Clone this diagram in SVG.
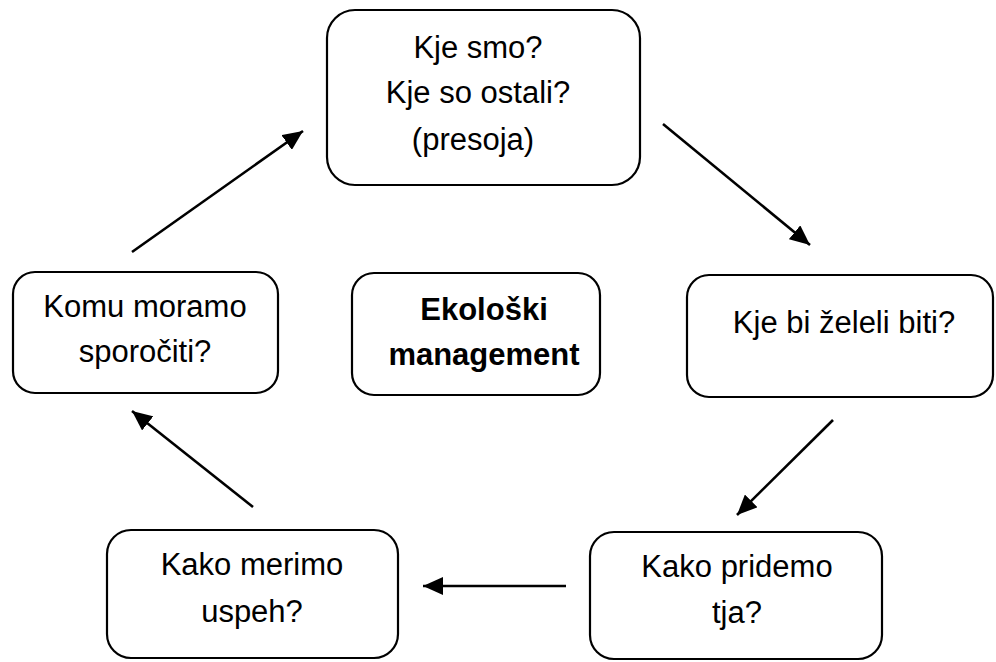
<svg xmlns="http://www.w3.org/2000/svg" width="996" height="662" viewBox="0 0 996 662">
<defs>
<style>
.box{fill:#fff;stroke:#000;stroke-width:2.2}
.t{font-family:"Liberation Sans",Arial,sans-serif;font-size:31px;fill:#000;text-anchor:middle}
.b{font-weight:bold;font-size:31px}
.c{stroke:#000;stroke-width:2.6;fill:none}
</style>
<marker id="ah" markerUnits="userSpaceOnUse" markerWidth="22" markerHeight="18" refX="20" refY="9" orient="auto">
<path d="M0,0 L20,9 L0,18 Z" fill="#000"/>
</marker>
</defs>
<rect width="996" height="662" fill="#fff"/>
<g id="n-top">
<rect class="box" x="327" y="10" width="313" height="175" rx="28"/>
<text class="t" x="478" y="58">Kje smo?</text>
<text class="t" x="478" y="103">Kje so ostali?</text>
<text class="t" x="473" y="150">(presoja)</text>
</g>
<g id="n-left">
<rect class="box" x="13" y="272" width="265" height="121" rx="22"/>
<text class="t" x="145" y="317">Komu moramo</text>
<text class="t" x="145" y="362">sporočiti?</text>
</g>
<g id="n-center">
<rect class="box" x="352" y="273" width="248" height="122" rx="22"/>
<text class="t b" x="484" y="320">Ekološki</text>
<text class="t b" x="484" y="365">management</text>
</g>
<g id="n-right">
<rect class="box" x="687" y="275" width="306" height="122" rx="22"/>
<text class="t" x="844" y="333">Kje bi želeli biti?</text>
</g>
<g id="n-bl">
<rect class="box" x="107" y="530" width="291" height="128" rx="24"/>
<text class="t" x="252" y="575">Kako merimo</text>
<text class="t" x="252" y="622">uspeh?</text>
</g>
<g id="n-br">
<rect class="box" x="590" y="532" width="292" height="127" rx="24"/>
<text class="t" x="737" y="577">Kako pridemo</text>
<text class="t" x="737" y="623">tja?</text>
</g>
<g id="connectors">
<line class="c" x1="132" y1="252" x2="303" y2="131" marker-end="url(#ah)"/>
<line class="c" x1="663" y1="124" x2="810" y2="245" marker-end="url(#ah)"/>
<line class="c" x1="833" y1="420" x2="737" y2="515" marker-end="url(#ah)"/>
<line class="c" x1="566" y1="586" x2="423" y2="586" marker-end="url(#ah)"/>
<line class="c" x1="253" y1="507" x2="132" y2="411" marker-end="url(#ah)"/>
</g>
</svg>
